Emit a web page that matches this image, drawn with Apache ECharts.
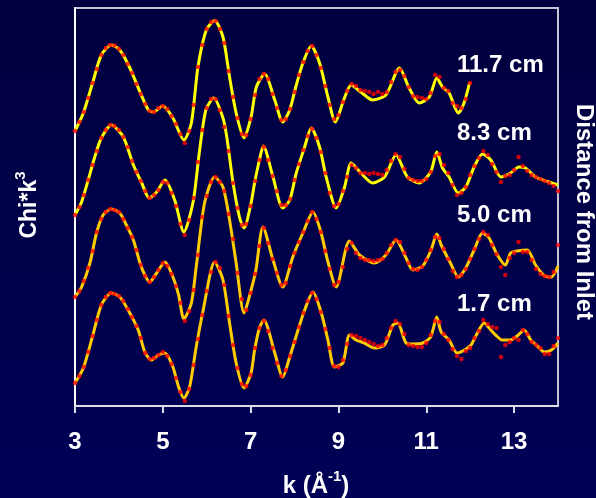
<!DOCTYPE html>
<html>
<head>
<meta charset="utf-8">
<script src="https://cdn.jsdelivr.net/npm/echarts@6/dist/echarts.min.js"></script>
<style>
  html, body { margin: 0; padding: 0; background: #000048; }
  #chart { width: 596px; height: 498px; }
</style>
</head>
<body>
<div id="chart"></div>
<script>
// EXAFS chi(k)*k^3 spectra at four distances from the inlet:
// red dots = measured data, yellow line = fit. Curves are stacked with offsets.

const sampleLabels = ['11.7 cm', '8.3 cm', '5.0 cm', '1.7 cm'];
const offsets = [32.1, 23.6, 15.1, 6.6];
const xTicks = [3, 5, 7, 9, 11, 13];

// k grid of the measured points (1/Angstrom)
const kData = [
  3.0,3.1,3.2,3.3,3.4,3.5,3.6,3.7,3.8,3.9,
  4.0,4.1,4.2,4.3,4.4,4.5,4.6,4.7,4.8,4.9,
  5.0,5.1,5.2,5.3,5.4,5.5,5.6,5.7,5.8,5.9,
  6.0,6.1,6.2,6.3,6.4,6.5,6.6,6.7,6.8,6.9,
  7.0,7.1,7.2,7.3,7.4,7.5,7.6,7.7,7.8,7.9,
  8.0,8.1,8.2,8.3,8.4,8.5,8.6,8.7,8.8,8.9,
  9.0,9.1,9.2,9.3,9.4,9.5,9.6,9.7,9.8,9.9,
  10.0,10.1,10.2,10.3,10.4,10.5,10.6,10.7,10.8,10.9,
  11.0,11.1,11.2,11.3,11.4,11.5,11.6,11.7,11.8,11.9,
  12.0,12.1,12.2,12.3,12.4,12.5,12.6,12.7,12.8,12.9,
  13.0,13.1,13.2,13.3,13.4,13.5,13.6,13.7,13.8,13.9,
  14.0
];

// measured chi*k^3
const data117 = [
  -4.6,-3.7,-2.7,-1.3,0.2,1.6,3.0,3.7,4.0,3.95,
  3.6,3.0,2.1,1.2,0.1,-0.9,-1.9,-2.6,-2.7,-2.3,
  -2.1,-2.4,-3.1,-3.9,-4.9,-5.8,-4.6,-2.0,1.8,4.0,
  5.6,6.3,6.4,5.6,4.2,1.4,-1.2,-3.3,-4.9,-5.0,
  -3.4,-1.0,0.6,1.1,0.6,-0.9,-2.3,-3.5,-3.4,-2.4,
  -0.7,1.0,2.3,3.4,3.9,3.0,1.7,-0.1,-2.0,-3.4,
  -3.0,-1.7,-0.6,0.1,-0.1,-0.5,-0.6,-0.7,-0.9,-0.7,
  -0.9,-0.7,0.3,1.3,1.5,0.9,-0.2,-1.1,-1.2,-1.3,
  -1.4,-0.8,1.0,0.8,-0.3,-0.6,-1.8,-2.1,-2.3,-1.4,
  0.2
];
const data83 = [
  -4.5,-3.7,-2.5,-1.0,0.5,1.9,3.2,4.0,4.5,4.4,
  4.0,3.3,2.3,0.9,-0.2,-1.1,-2.1,-2.8,-2.5,-2.0,
  -1.2,-1.3,-2.3,-3.6,-5.4,-6.5,-5.0,-2.8,0.8,4.0,
  6.2,7.1,7.1,6.0,4.3,1.9,-1.3,-3.8,-5.5,-5.4,
  -3.6,-1.1,1.0,2.3,1.0,-0.6,-2.1,-3.5,-3.5,-2.9,
  -1.0,0.6,2.0,3.4,4.1,3.2,1.8,-0.3,-2.3,-3.6,
  -3.4,-2.1,-0.7,0.5,0.2,-0.3,-0.3,-0.4,-0.3,-0.4,
  -0.5,0.0,0.9,1.6,1.3,0.1,-0.8,-1.0,-1.1,-1.1,
  -0.9,-0.2,1.4,1.6,0.5,-0.3,-1.5,-2.5,-2.3,-1.7,
  -0.5,0.4,1.2,1.9,1.5,0.6,-0.2,-1.2,-0.6,-0.5,
  0.0,1.3,0.4,-0.1,-0.5,-0.7,-0.9,-1.1,-1.3,-1.6,
  -2.1
];
const data50 = [
  -4.2,-3.6,-2.6,-1.3,0.4,2.3,3.6,4.3,4.6,4.5,
  4.3,3.6,2.7,1.8,0.5,-1.0,-2.1,-2.7,-2.2,-1.5,
  -0.8,-1.1,-1.9,-3.1,-4.8,-6.6,-5.6,-3.5,0.0,3.8,
  5.9,7.3,7.8,7.3,6.4,4.1,1.6,-1.8,-4.4,-5.5,
  -3.8,-1.9,0.9,2.7,1.2,-0.4,-1.8,-3.0,-2.8,-1.1,
  0.2,1.3,2.3,3.4,4.3,3.6,2.3,0.4,-1.4,-3.0,
  -2.7,-1.2,0.6,1.2,0.2,-0.3,-0.5,-0.5,-0.6,-0.5,
  -0.4,0.2,1.0,1.5,1.3,0.2,-0.8,-1.4,-1.5,-1.2,
  -0.5,0.5,1.8,1.7,0.6,-0.4,-1.6,-2.2,-2.0,-1.4,
  -0.4,0.6,1.6,2.3,2.0,1.0,0.1,-1.2,-2.0,-0.3,
  0.2,1.3,0.3,0.3,-0.5,-1.4,-1.9,-2.1,-2.2,-1.7,
  1.0
];
const data17 = [
  -4.3,-3.6,-2.7,-1.2,0.4,2.0,3.5,4.3,4.7,4.6,
  4.4,3.9,3.1,2.3,1.4,0.2,-1.3,-1.9,-1.8,-1.5,
  -1.2,-1.6,-2.4,-3.8,-5.2,-6.1,-4.9,-2.5,0.1,2.5,
  4.9,6.8,7.8,7.2,5.5,2.4,-0.5,-2.8,-4.4,-4.6,
  -3.5,-0.8,1.2,1.9,0.9,-0.8,-2.3,-3.6,-3.0,-1.6,
  -0.2,1.3,2.7,3.9,4.7,4.1,2.8,1.1,-0.8,-2.6,
  -2.7,-2.0,-0.4,0.5,0.4,0.2,0.0,-0.2,-0.4,-0.6,
  -0.5,0.2,1.2,1.9,1.6,0.6,-0.5,-0.6,-0.7,-0.7,
  -0.3,0.5,1.9,1.8,0.6,0.0,-0.9,-1.6,-1.9,-1.1,
  -0.8,0.2,0.9,2.0,1.6,1.3,1.2,-1.7,-0.5,-0.2,
  0.2,0.0,1.0,0.6,-0.2,-0.5,-0.8,-1.4,-1.4,-0.6,
  0.2
];

// fitted chi*k^3, [k, value]
const fit117 = [
  [3.00,-4.6],[3.19,-2.8],[3.42,0.5],[3.60,3.0],[3.83,4.0],[4.02,3.5],[4.25,1.7],
  [4.48,-0.7],[4.67,-2.5],[4.78,-2.7],[5.00,-2.1],[5.23,-3.3],[5.48,-5.5],[5.65,-3.8],
  [5.80,1.8],[5.99,5.5],[6.18,6.45],[6.37,4.8],[6.52,0.8],[6.67,-2.8],[6.85,-5.3],
  [7.01,-3.2],[7.13,-0.2],[7.32,1.1],[7.55,-1.5],[7.73,-3.7],[7.89,-2.5],[8.04,0.0],
  [8.19,2.2],[8.38,3.9],[8.57,2.2],[8.76,-1.2],[8.93,-3.7],[9.12,-1.5],[9.29,0.0],
  [9.51,-0.7],[9.78,-1.5],[10.08,-1.0],[10.39,1.7],[10.61,-0.3],[10.84,-1.8],[11.07,-1.2],
  [11.24,0.7],[11.37,-0.2],[11.52,-0.8],[11.73,-2.8],[11.86,-1.8],[11.99,0.3]
];
const fit83 = [
  [3.00,-4.5],[3.15,-3.2],[3.30,-1.0],[3.45,1.3],[3.60,3.2],[3.83,4.5],[4.10,3.3],
  [4.33,0.5],[4.52,-1.3],[4.69,-2.8],[4.86,-2.2],[5.05,-1.0],[5.27,-3.0],[5.48,-6.2],
  [5.69,-3.2],[5.83,1.7],[5.98,6.0],[6.16,7.2],[6.37,5.2],[6.46,3.2],[6.60,-1.3],
  [6.75,-4.8],[6.85,-5.8],[7.01,-3.3],[7.09,-1.3],[7.20,1.0],[7.29,2.4],[7.51,-0.7],
  [7.73,-3.8],[7.89,-3.0],[8.04,-0.3],[8.23,2.3],[8.38,4.2],[8.57,2.3],[8.72,-0.7],
  [8.95,-3.8],[9.14,-1.7],[9.29,0.7],[9.51,-0.3],[9.78,-1.3],[10.05,-0.7],[10.31,1.5],
  [10.57,-0.7],[10.84,-1.3],[11.10,-0.2],[11.24,1.8],[11.37,0.2],[11.52,-0.7],[11.73,-2.3],
  [11.90,-1.7],[12.09,0.3],[12.28,1.6],[12.47,1.0],[12.70,-0.7],[12.92,-0.3],[13.11,0.3],
  [13.26,0.2],[13.49,-0.7],[13.80,-1.2],[14.00,-1.5]
];
const fit50 = [
  [3.00,-4.2],[3.15,-3.2],[3.34,-0.8],[3.49,2.2],[3.64,4.0],[3.83,4.6],[4.02,4.2],
  [4.17,3.0],[4.33,1.5],[4.48,-0.8],[4.59,-2.0],[4.70,-2.7],[4.86,-1.8],[5.05,-0.7],
  [5.23,-2.2],[5.36,-4.0],[5.48,-6.4],[5.65,-4.8],[5.76,-1.2],[5.95,5.2],[6.18,7.8],
  [6.37,6.8],[6.52,3.5],[6.67,-0.8],[6.85,-5.8],[7.01,-3.5],[7.12,-1.5],[7.28,2.8],
  [7.51,-0.5],[7.73,-3.2],[7.96,-0.2],[8.19,2.2],[8.42,4.3],[8.60,2.3],[8.75,-0.5],
  [8.95,-3.2],[9.25,1.4],[9.48,0.0],[9.82,-0.8],[10.08,0.0],[10.31,1.5],[10.54,-0.3],
  [10.69,-1.5],[10.92,-1.1],[11.11,0.5],[11.24,2.1],[11.34,1.0],[11.55,-0.8],[11.73,-2.2],
  [11.90,-1.3],[12.09,0.5],[12.28,2.2],[12.43,1.7],[12.62,0.0],[12.80,-1.0],[12.92,0.2],
  [13.07,0.4],[13.30,0.5],[13.49,-1.0],[13.70,-2.1],[13.85,-2.2],[14.00,-1.1]
];
const fit17 = [
  [3.00,-4.3],[3.19,-2.8],[3.42,0.7],[3.60,3.5],[3.83,4.7],[4.02,4.3],[4.21,3.0],
  [4.44,1.0],[4.59,-1.2],[4.74,-2.0],[4.90,-1.5],[5.05,-1.3],[5.23,-2.7],[5.36,-4.7],
  [5.48,-5.8],[5.61,-4.7],[5.76,-0.7],[5.92,3.0],[6.18,7.8],[6.37,6.0],[6.52,1.7],
  [6.67,-2.3],[6.85,-4.8],[7.01,-3.3],[7.09,-1.0],[7.20,1.2],[7.30,2.0],[7.55,-1.3],
  [7.73,-3.7],[7.89,-1.7],[8.08,1.0],[8.23,3.0],[8.42,4.8],[8.61,2.7],[8.76,0.0],
  [8.91,-2.7],[9.10,-2.3],[9.25,0.5],[9.40,0.0],[9.59,-0.3],[9.82,-0.8],[10.05,-0.5],
  [10.24,1.5],[10.35,1.7],[10.54,-0.3],[10.69,-0.4],[10.92,-0.3],[11.10,0.3],[11.24,2.3],
  [11.34,0.8],[11.52,0.0],[11.70,-1.3],[11.87,-1.0],[12.02,-0.5],[12.14,0.5],[12.32,1.7],
  [12.47,1.0],[12.58,0.5],[12.73,0.0],[12.92,0.0],[13.07,0.4],[13.23,1.0],[13.38,0.0],
  [13.53,-0.6],[13.69,-1.2],[13.85,-1.0],[14.00,-0.3]
];

const measured = [data117, data83, data50, data17];
const fits = [fit117, fit83, fit50, fit17];
const fitColors = ['#ffff00', '#ffff00', '#ffcc00', '#ffcc00'];

const FONT = '"Liberation Sans", Arial, Helvetica, sans-serif';

const series = [];
fits.forEach(function (fit, i) {
  series.push({
    type: 'line',
    data: fit.map(function (p) { return [p[0], p[1] + offsets[i]]; }),
    smooth: 0.25,
    symbol: 'none',
    lineStyle: { color: fitColors[i], width: 3 },
    z: 2,
    silent: true
  });
});
measured.forEach(function (vals, i) {
  series.push({
    type: 'scatter',
    data: vals.map(function (v, j) { return [kData[j], v + offsets[i]]; }),
    symbol: 'circle',
    symbolSize: 4.5,
    itemStyle: { color: '#ff0000' },
    z: 3,
    silent: true
  });
});

const labelY = [65, 133, 215, 304];
const graphics = sampleLabels.map(function (t, i) {
  return {
    type: 'text', x: 457, y: labelY[i], z: 10,
    style: { text: t, fill: '#ffffff', font: 'bold 24px ' + FONT, align: 'left', verticalAlign: 'middle' }
  };
});
graphics.push({
  type: 'text', x: 316, y: 484, z: 10,
  style: {
    text: '{a|k (Å}{s|-1}{a|)}', align: 'center', verticalAlign: 'middle',
    rich: {
      a: { fill: '#ffffff', fontSize: 24, fontWeight: 'bold', fontFamily: FONT, lineHeight: 29, verticalAlign: 'bottom' },
      s: { fill: '#ffffff', fontSize: 15, fontWeight: 'bold', fontFamily: FONT, lineHeight: 29, verticalAlign: 'top' }
    }
  }
});
graphics.push({
  type: 'text', x: 27, y: 205, rotation: Math.PI / 2, z: 10,
  style: {
    text: '{a|Chi*k}{s|3}', align: 'center', verticalAlign: 'middle',
    rich: {
      a: { fill: '#ffffff', fontSize: 23, fontWeight: 'bold', fontFamily: FONT, lineHeight: 28, verticalAlign: 'bottom' },
      s: { fill: '#ffffff', fontSize: 15, fontWeight: 'bold', fontFamily: FONT, lineHeight: 28, verticalAlign: 'top' }
    }
  }
});
graphics.push({
  type: 'text', x: 584, y: 212, rotation: -Math.PI / 2, z: 10,
  style: { text: 'Distance from Inlet', fill: '#ffffff', font: 'bold 24px ' + FONT, align: 'center', verticalAlign: 'middle' }
});

const chart = echarts.init(document.getElementById('chart'), null, { renderer: 'canvas' });
chart.setOption({
  animation: false,
  backgroundColor: {
    type: 'linear', x: 0, y: 0, x2: 0, y2: 1,
    colorStops: [{ offset: 0, color: '#00003e' }, { offset: 1, color: '#000056' }]
  },
  grid: {
    left: 75, right: 38, top: 8, bottom: 92,
    show: true, borderColor: '#c4c4d4', borderWidth: 2, backgroundColor: 'transparent'
  },
  xAxis: {
    type: 'value', min: 3, max: 14, interval: 1,
    splitLine: { show: false },
    axisLine: { show: true, onZero: false, lineStyle: { color: '#dcdce8', width: 2 } },
    axisTick: { show: true, inside: false, length: 7, lineStyle: { color: '#dcdce8', width: 2 }, customValues: xTicks },
    axisLabel: {
      show: true, color: '#ffffff', fontSize: 24, fontWeight: 'bold', fontFamily: FONT, margin: 24,
      customValues: xTicks
    }
  },
  yAxis: {
    type: 'value', min: 0, max: 39.8,
    splitLine: { show: false },
    axisLine: { show: true, onZero: false, lineStyle: { color: '#ffffff', width: 2 } },
    axisTick: { show: false },
    axisLabel: { show: false }
  },
  series: series,
  graphic: graphics
});
</script>
</body>
</html>
